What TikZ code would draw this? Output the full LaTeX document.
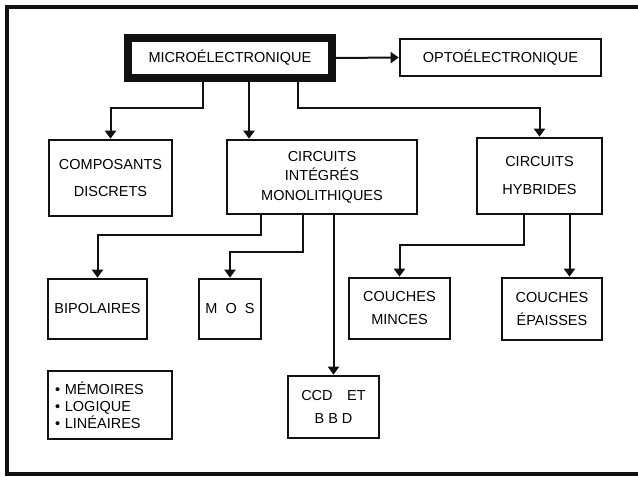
\documentclass[tikz,border=0pt]{standalone}
\usepackage{fontspec}
\setmainfont{Liberation Sans}
\usepackage{xcolor}
\definecolor{cInk}{HTML}{111111}
\usepackage{tikz}
\usetikzlibrary{arrows.meta}
\tikzset{
  node-box/.style={draw=cInk,line width=2.6pt,align=center,inner sep=0pt,
    font=\fontsize{14.5}{17}\selectfont},
  % le bloc de tete a un cadre tres epais
  node-main/.style={node-box,line width=8pt},
  node-list/.style={node-box,align=left,inner xsep=7pt,text width=110pt},
  arrow/.style={-{Triangle[length=8pt,width=11pt]},line width=2pt,draw=cInk},
  frame-line/.style={line width=4.5pt,draw=cInk},
}
\begin{document}
\begin{tikzpicture}[x=1pt,y=-1pt]
  \useasboundingbox (0,0) rectangle (638,477);
  \draw[frame-line] (638,7) -- (7,7) -- (7,474) -- (638,474);

  \node[node-main,minimum width=204pt,minimum height=40pt] (micro) at (230,58) {MICROÉLECTRONIQUE};
  \node[node-box,minimum width=201pt,minimum height=37pt] (opto) at (500.5,57.5) {OPTOÉLECTRONIQUE};

  \node[node-box,minimum width=123pt,minimum height=76pt] (comp) at (110.5,178) {COMPOSANTS\\[10pt]DISCRETS};
  \node[node-box,minimum width=190pt,minimum height=74pt] (cim) at (322,177) {CIRCUITS\\[2pt]INTÉGRÉS\\[3pt]MONOLITHIQUES};
  \node[node-box,minimum width=125pt,minimum height=76pt] (hyb) at (539.5,176) {CIRCUITS\\[11pt]HYBRIDES};

  \node[node-box,minimum width=99pt,minimum height=60pt] (bip) at (97.5,309) {BIPOLAIRES};
  \node[node-box,minimum width=62pt,minimum height=60pt] (mos) at (230,309) {M\ \ O\ \ S};
  \node[node-box,minimum width=101pt,minimum height=61pt] (minces) at (399.5,308.5) {COUCHES\\[6pt]MINCES};
  \node[node-box,minimum width=100pt,minimum height=62pt] (epais) at (552,309) {COUCHES\\[6pt]ÉPAISSES};

  \node[node-list,minimum height=68pt] (mem) at (110,405) {\textbullet\ MÉMOIRES\\\textbullet\ LOGIQUE\\\textbullet\ LINÉAIRES};
  \node[node-box,minimum width=91pt,minimum height=62pt] (ccd) at (333.5,407) {CCD\quad ET\\[6pt]B B D};

  \draw[arrow] (micro.east) -- (opto.west);
  \draw[arrow] ([xshift=-27pt]micro.south) -- ++(0,26) -| (comp.north);
  \path ([xshift=19pt]micro.south) coordinate (m2);
  \draw[arrow] (m2) -- (m2 |- cim.north);
  \draw[arrow] ([xshift=68pt]micro.south) -- ++(0,26) -| (hyb.north);

  \draw[arrow] ([xshift=-61pt]cim.south) -- ++(0,20) -| (bip.north);
  \draw[arrow] ([xshift=-19pt]cim.south) -- ++(0,37) -| (mos.north);
  \draw[arrow] (cim.south -| ccd.north) -- (ccd.north);

  \draw[arrow] ([xshift=-16pt]hyb.south) -- ++(0,30) -| (minces.north);
  \path ([xshift=30pt]hyb.south) coordinate (h2);
  \draw[arrow] (h2) -- (h2 |- epais.north);
\end{tikzpicture}
\end{document}
